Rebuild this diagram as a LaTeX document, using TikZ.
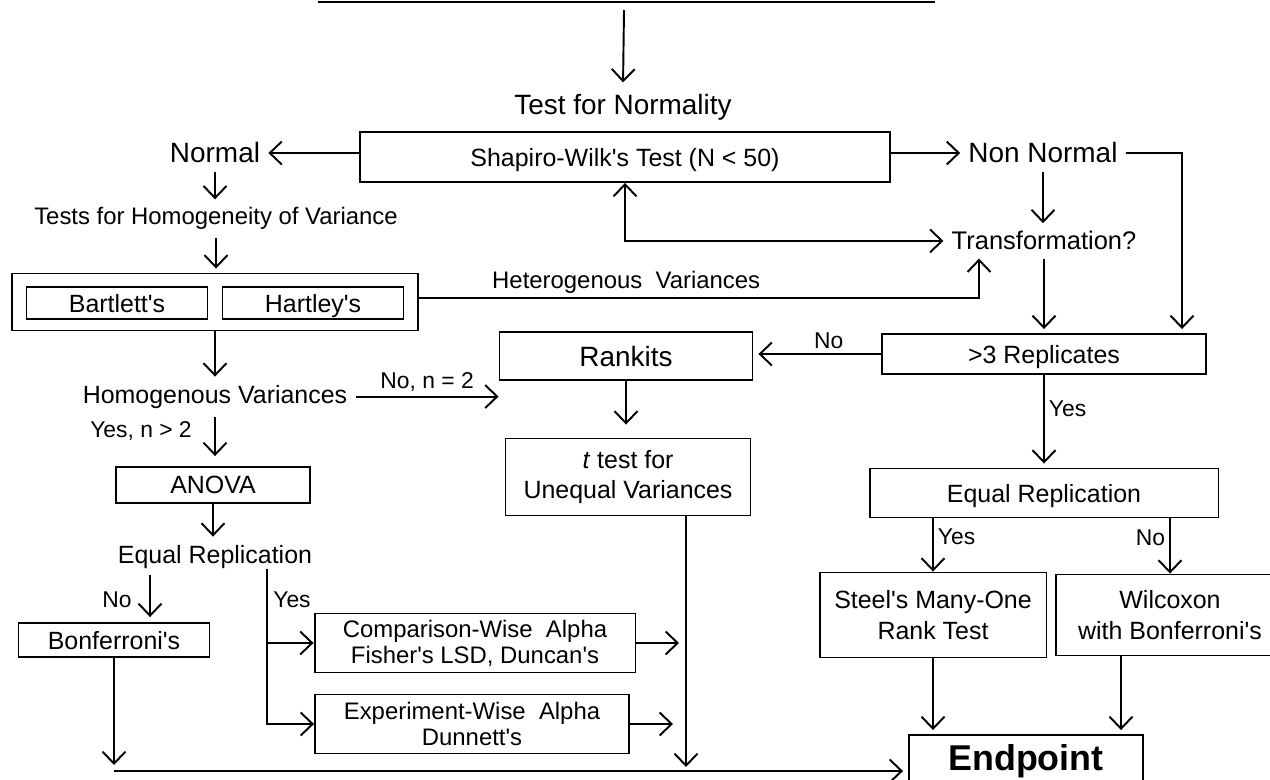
\documentclass[tikz,border=0pt]{standalone}
\usepackage{fontspec}
\setmainfont{Liberation Sans}[Ligatures=TeXOff]
\usetikzlibrary{arrows.meta}

\newcommand{\bigtxt}{\fontsize{15.9}{18}\selectfont}
\newcommand{\trtxt}{\fontsize{14.5}{17}\selectfont}
\newcommand{\medtxt}{\fontsize{14.2}{17.5}\selectfont}
\newcommand{\smtxt}{\fontsize{13.6}{14.8}\selectfont}
\newcommand{\lbltxt}{\fontsize{13}{15}\selectfont}
\newcommand{\hugetxt}{\fontsize{20.4}{24}\selectfont}

\tikzset{
    box/.style={draw, line width=1.1pt, inner sep=0pt, align=center, font=\medtxt},
    cell/.style={box, text depth=0pt},
    txt/.style={inner sep=0.16cm, anchor=base, font=\medtxt},
    lbl/.style={inner sep=0.08cm, font=\lbltxt},
    plain/.style={line width=1.1pt},
    flow/.style={plain, -{Straight Barb[length=0.24cm,width=0.46cm]}},
    flowboth/.style={plain, {Straight Barb[length=0.24cm,width=0.46cm]}-{Straight Barb[length=0.24cm,width=0.46cm]}},
}

\begin{document}
\begin{tikzpicture}[x=0.02cm, y=-0.02cm]
    \useasboundingbox (0,0) rectangle (1270,780);
    \clip (0,0) rectangle (1270,780);

    \coordinate (hdl) at (318,2);
    \coordinate (hdr) at (935,2);
    \coordinate (hda) at (624,10);

    \node [txt, font=\bigtxt] (tnorm) at (623,115) {Test for Normality};
    \node [cell, minimum width=10.62cm, minimum height=1cm] (shapiro) at (625,157) {Shapiro-Wilk's Test (N < 50)};
    \node [txt, font=\bigtxt] (normal) at (215,163) {Normal};
    \node [txt, font=\bigtxt] (nonnormal) at (1043,163) {Non Normal};
    \node [txt, font=\trtxt] (transf) at (1044,250) {Transformation?};
    \node [txt, font=\smtxt] (homtest) at (216,225) {Tests for Homogeneity of Variance};

    \node [box, minimum width=8.12cm, minimum height=1.14cm] (bvbox) at (215,302) {};
    \node [cell, minimum width=3.62cm, minimum height=0.64cm] (bartlett) at (117,303) {Bartlett's};
    \node [cell, minimum width=3.62cm, minimum height=0.64cm] (hartley) at (313,303) {Hartley's};

    \node [txt] (homvar) at (215,403) {Homogenous Variances};
    \node [txt, font=\lbltxt, inner sep=0pt] (yesgt) at (141,437) {Yes, n > 2};
    \node [cell, minimum width=3.88cm, minimum height=0.72cm] (anova) at (213,485) {ANOVA};
    \node [txt] (eqrep) at (215,563) {Equal Replication};
    \node [txt, font=\lbltxt, inner sep=0pt] (nobonf) at (117,607) {No};
    \node [txt, font=\lbltxt, inner sep=0pt] (yesalpha) at (292,607) {Yes};
    \node [cell, minimum width=3.82cm, minimum height=0.68cm] (bonf) at (114,640) {Bonferroni's};
    \node [box, font=\smtxt, minimum width=6.42cm, minimum height=1.18cm] (comp) at (475,643) {Comparison-Wise\ \ Alpha\\Fisher's LSD, Duncan's};
    \node [box, font=\smtxt, minimum width=6.28cm, minimum height=1.18cm] (expt) at (472,724) {Experiment-Wise\ \ Alpha\\Dunnett's};

    \node [cell, font=\bigtxt, minimum width=5.06cm, minimum height=0.96cm] (rankits) at (626,356) {Rankits};
    \node [box, minimum width=4.9cm, minimum height=1.54cm] (ttest) at (628,477) {\textit{t} test for\\Unequal Variances};
    \node [cell, minimum width=6.48cm, minimum height=0.8cm] (repl) at (1044,354) {>3 Replicates};
    \node [cell, minimum width=6.98cm, minimum height=0.98cm] (eqrepr) at (1044,493) {Equal Replication};
    \node [box, minimum width=4.54cm, minimum height=1.7cm] (steel) at (933,615) {Steel's Many-One\\Rank Test};
    \node [box, minimum width=4.56cm, minimum height=1.62cm] (wilc) at (1170,615) {Wilcoxon\\with Bonferroni's};
    \node [box, font=\bfseries\hugetxt, minimum width=4.68cm, minimum height=1.04cm] (endpt) at (1026,761) {Endpoint};

    \draw [plain] (hdl) -- (hdr);
    \draw [flow, shorten >=0.08cm] (hda) -- (tnorm.north);
    \draw [flow] (shapiro.west |- normal.east) -- (normal.east);
    \draw [flow] (shapiro.east |- nonnormal.west) -- (nonnormal.west);
    \coordinate (nnturn) at (1182,153);
    \draw [flow, shorten >=0.08cm] (nonnormal.east) -- (nnturn) -- (nnturn |- repl.north);
    \draw [flow] (nonnormal.south) -- (nonnormal.south |- transf.north);
    \draw [flowboth] (shapiro.south) |- (transf.west);
    \draw [flow] (normal.south) -- (normal.south |- homtest.north);
    \draw [flow, shorten >=0.08cm] (homtest.south) -- (homtest.south |- bvbox.north);
    \coordinate (hvturn) at (979,298);
    \draw [flow] (bvbox.east |- hvturn) -- node [lbl, font=\smtxt, above, pos=0.37] (hetero) {Heterogenous\ \ Variances} (hvturn) -- (hvturn |- transf.south);
    \draw [flow, shorten >=0.08cm] (transf.south) -- (transf.south |- repl.north);

    \draw [flow] (bvbox.south) -- (homvar.north);
    \draw [flow] (homvar.east) -- node [lbl, above] (non2) {No, n = 2} (homvar.east -| rankits.west);
    \draw [flow, shorten >=0.2cm] (homvar.south) -- (homvar.south |- anova.north);
    \draw [flow] (anova.south) -- (anova.south |- eqrep.north);
    \coordinate (nobr) at (150,575);
    \draw [flow, shorten >=0.1cm] (nobr) -- (nobr |- bonf.north);
    \coordinate (yesbr) at (267,569);
    \draw [flow] (yesbr) |- (expt.west);
    \draw [flow] (yesbr |- comp.west) -- (comp.west);
    \coordinate (cpend) at (679,643);
    \coordinate (xpend) at (673,724);
    \draw [flow] (comp.east) -- (cpend);
    \draw [flow] (expt.east) -- (xpend);
    \coordinate (bfend) at (114,765);
    \draw [flow] (bonf.south) -- (bfend);
    \coordinate (bline) at (114,771);
    \draw [flow, shorten >=0.1cm] (bline) -- (bline -| endpt.west);

    \draw [flow, shorten >=0.1cm] (repl.west) -- node [lbl, above, pos=0.41] (norank) {No} (repl.west -| rankits.east);
    \draw [flow, shorten >=0.26cm] (rankits.south) -- (rankits.south |- ttest.north);
    \coordinate (ttend) at (686,767);
    \draw [flow] (ttend |- ttest.south) -- (ttend);
    \draw [flow, shorten >=0.08cm] (repl.south) -- node [lbl, right, pos=0.37] (yesrep) {Yes} (repl.south |- eqrepr.north);
    \draw [flow] (eqrepr.south -| steel.north) -- node [lbl, right, pos=0.35] (yessteel) {Yes} (steel.north);
    \draw [flow] (eqrepr.south -| wilc.north) -- node [lbl, left, pos=0.35] (nowilc) {No} (wilc.north);
    \draw [flow, shorten >=0.08cm] (steel.south) -- (steel.south |- endpt.north);
    \coordinate (wcdown) at (1121,656);
    \draw [flow, shorten >=0.08cm] (wcdown) -- (wcdown |- endpt.north);
\end{tikzpicture}
\end{document}
